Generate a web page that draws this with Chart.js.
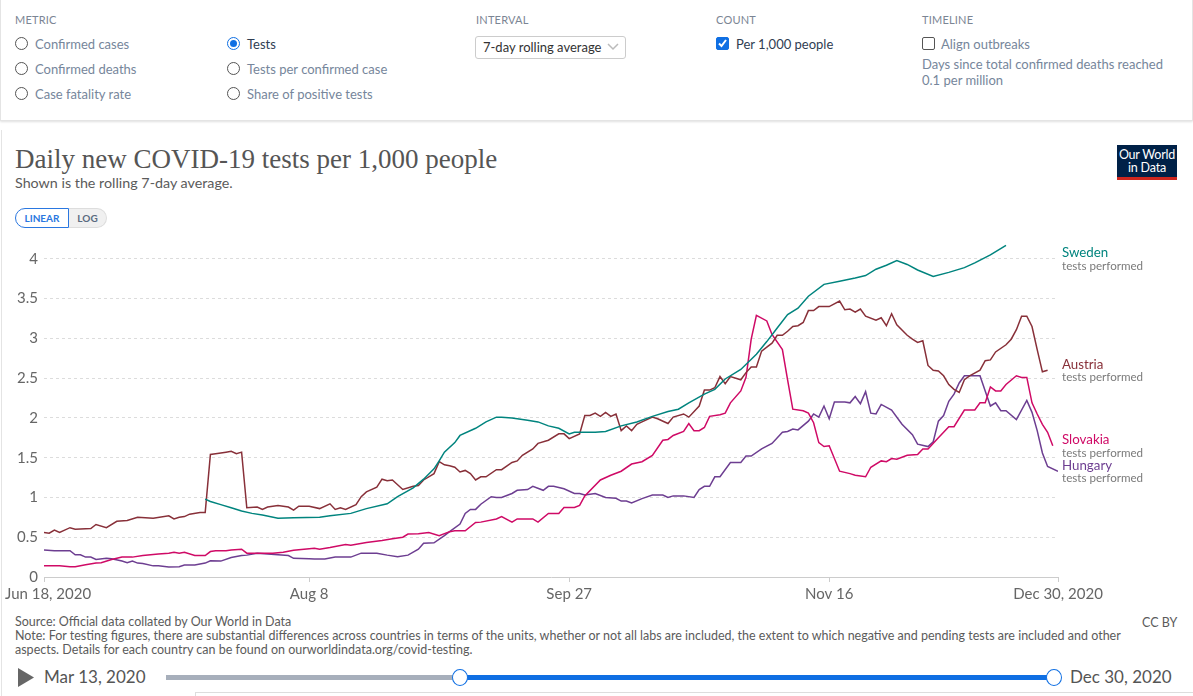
<!DOCTYPE html>
<html>
<head>
<meta charset="utf-8">
<script src="https://cdn.jsdelivr.net/npm/chart.js@4.4.0/dist/chart.umd.min.js"></script>
<style>
  body { margin:0; width:1193px; height:696px; overflow:hidden; background:#fff; font-family:Lato, sans-serif; position:relative; }
  .abs { position:absolute; white-space:nowrap; }
  .controls { position:absolute; left:0; top:-1px; width:1191px; height:120px; border:1px solid #e4e4e4; box-shadow:0 1px 2px rgba(0,0,0,.12); background:#fff; }
  .head { font-size:11px; color:#7b8594; letter-spacing:.2px; }
  .opt { font-size:13px; color:#76869b; }
  .opt.on { color:#2f3d52; }
  .radio { position:absolute; width:11px; height:11px; border:1px solid #555; border-radius:50%; background:#fff; }
  .radio.on { border-color:#0f6fe3; }
  .radio.on::after { content:''; position:absolute; left:2px; top:2px; width:7px; height:7px; border-radius:50%; background:#0f6fe3; }
  .box { position:absolute; width:11px; height:11px; border:1px solid #555; border-radius:2px; background:#fff; }
  .box.on { background:#0f6fe3; border-color:#0f6fe3; }
  .select { position:absolute; left:475px; top:36px; width:149px; height:21px; border:1px solid #ccc; border-radius:3px; font-size:13px; color:#333; }
  .card { position:absolute; left:1px; top:130px; width:1200px; height:570px; border-left:1px solid #e4e4e4; }
  .toggle { position:absolute; top:208px; height:18px; font-size:10px; font-weight:bold; line-height:18px; text-align:center; }
</style>
</head>
<body>
<div class="controls"></div>
<div class="card"></div>

<div class="abs head" style="left:15px;top:13px;">METRIC</div>
<span class="radio" style="left:15px;top:37px;"></span><div class="abs opt" style="left:35px;top:36px;">Confirmed cases</div>
<span class="radio" style="left:15px;top:62px;"></span><div class="abs opt" style="left:35px;top:61px;">Confirmed deaths</div>
<span class="radio" style="left:15px;top:87px;"></span><div class="abs opt" style="left:35px;top:86px;">Case fatality rate</div>
<span class="radio on" style="left:227px;top:37px;"></span><div class="abs opt on" style="left:247px;top:36px;">Tests</div>
<span class="radio" style="left:227px;top:62px;"></span><div class="abs opt" style="left:247px;top:61px;">Tests per confirmed case</div>
<span class="radio" style="left:227px;top:87px;"></span><div class="abs opt" style="left:247px;top:86px;">Share of positive tests</div>

<div class="abs head" style="left:476px;top:13px;">INTERVAL</div>
<div class="select"><span style="position:absolute;left:7px;top:2px;">7-day rolling average</span>
  <svg style="position:absolute;left:131px;top:6px;" width="12" height="8"><polyline points="1,1 6,6 11,1" fill="none" stroke="#bbb" stroke-width="1.5"/></svg></div>

<div class="abs head" style="left:716px;top:13px;">COUNT</div>
<span class="box on" style="left:716px;top:37px;"><svg style="position:absolute;left:0;top:0;" width="11" height="11"><polyline points="2,5.5 4.5,8 9,2" fill="none" stroke="#fff" stroke-width="2"/></svg></span>
<div class="abs opt on" style="left:736px;top:36px;">Per 1,000 people</div>

<div class="abs head" style="left:922px;top:13px;">TIMELINE</div>
<span class="box" style="left:922px;top:37px;"></span><div class="abs opt" style="left:941px;top:36px;">Align outbreaks</div>
<div class="abs opt" style="left:922px;top:56px;line-height:16px;">Days since total confirmed deaths reached<br>0.1 per million</div>

<div class="abs" style="left:15px;top:144px;font-family:'Liberation Serif',serif;font-size:27px;color:#555;">Daily new COVID-19 tests per 1,000 people</div>
<div class="abs" style="left:15px;top:174px;font-size:14.3px;color:#5b5b5b;">Shown is the rolling 7-day average.</div>
<div class="toggle" style="left:15px;width:52px;border:1px solid #2a77e0;border-radius:10px 0 0 10px;color:#2a77e0;background:#fff;">LINEAR</div>
<div class="toggle" style="left:69px;width:37px;border:1px solid #ddd;border-left:none;border-radius:0 10px 10px 0;color:#5b6b80;background:#f0f0f0;">LOG</div>

<div class="abs" style="left:1117px;top:145px;width:60px;height:32px;background:#002147;color:#fff;font-size:12.5px;line-height:13px;text-align:center;padding-top:3px;box-sizing:border-box;letter-spacing:-0.2px;">Our World<br>in Data</div>
<div class="abs" style="left:1117px;top:177px;width:60px;height:3px;background:#ce261e;"></div>

<div style="position:absolute;left:0;top:232px;width:1193px;height:378px;">
  <canvas id="chart" width="1193" height="378"></canvas>
</div>

<div class="abs" style="left:15px;top:615px;font-size:12.5px;color:#5b5b5b;line-height:14px;">Source: Official data collated by Our World in Data<br>Note: For testing figures, there are substantial differences across countries in terms of the units, whether or not all labs are included, the extent to which negative and pending tests are included and other<br>aspects. Details for each country can be found on ourworldindata.org/covid-testing.</div>
<div class="abs" style="left:1142px;top:615px;font-size:12.5px;color:#5b5b5b;">CC BY</div>

<svg class="abs" style="left:18px;top:668px;" width="17" height="19"><polygon points="0,0 16,9.5 0,19" fill="#666"/></svg>
<div class="abs" style="left:44px;top:666px;font-size:17px;color:#555;">Mar 13, 2020</div>
<div class="abs" style="left:166px;top:675px;width:294px;height:5px;background:#a7afbb;"></div>
<div class="abs" style="left:460px;top:675px;width:594px;height:5px;background:#0f6fe3;"></div>
<div class="abs" style="left:452px;top:669px;width:14px;height:15px;border:1px solid #0f6fe3;border-radius:50%;background:#fff;"></div>
<div class="abs" style="left:1046px;top:669px;width:14px;height:15px;border:1px solid #0f6fe3;border-radius:50%;background:#fff;"></div>
<div class="abs" style="left:1070px;top:666px;font-size:17px;color:#555;">Dec 30, 2020</div>
<div class="abs" style="left:195px;top:692px;width:1000px;height:10px;border-top:1px solid #ddd;border-left:1px solid #ddd;"></div>

<script>
// days counted from Jun 18, 2020
var tickDays = [0, 51, 101, 151, 195];
var tickLabels = ['Jun 18, 2020', 'Aug 8', 'Sep 27', 'Nov 16', 'Dec 30, 2020'];
var yTicks = [0, 0.5, 1, 1.5, 2, 2.5, 3, 3.5, 4];
var seriesNames = ['Sweden', 'Austria', 'Slovakia', 'Hungary'];
var seriesColors = ['#00847e', '#883039', '#cf0a66', '#6d3e91'];

var sweden = [[31,0.98],[32,0.95],[34,0.91],[36,0.87],[38,0.83],[40,0.80],[42,0.78],[45,0.74],[48,0.745],[53,0.75],[55,0.77],[59,0.80],[62,0.86],[66,0.92],[68,1.01],[71,1.12],[73,1.23],[75,1.36],[76,1.46],[77,1.57],[79,1.69],[80,1.78],[83,1.87],[85,1.95],[87,2.01],[88,2.01],[90,2.00],[93,1.97],[95,1.95],[97,1.90],[99,1.87],[101,1.80],[102,1.82],[106,1.82],[108,1.83],[111,1.90],[114,1.95],[117,2.02],[120,2.08],[122,2.11],[124,2.19],[127,2.30],[129,2.36],[131,2.49],[134,2.61],[137,2.80],[139,2.96],[141,3.13],[143,3.30],[145,3.38],[147,3.53],[150,3.68],[153,3.72],[156,3.76],[158,3.79],[160,3.87],[162,3.92],[164,3.98],[166,3.93],[168,3.86],[171,3.78],[174,3.83],[177,3.89],[179,3.95],[182,4.05],[185,4.17]];

var austria = [[0,0.56],[1,0.55],[2,0.59],[3,0.56],[5,0.62],[6,0.60],[9,0.61],[10,0.66],[12,0.62],[14,0.70],[16,0.71],[18,0.75],[21,0.74],[24,0.77],[25,0.73],[26,0.75],[27,0.76],[28,0.79],[30,0.81],[31,0.81],[32,1.54],[33,1.55],[35,1.57],[36,1.58],[37,1.55],[38,1.57],[39,0.87],[41,0.88],[42,0.85],[43,0.88],[45,0.90],[47,0.88],[48,0.84],[49,0.89],[51,0.89],[53,0.86],[55,0.92],[56,0.85],[57,0.87],[58,0.85],[60,0.91],[61,1.01],[62,1.07],[64,1.13],[65,1.23],[66,1.21],[67,1.22],[69,1.10],[71,1.14],[72,1.15],[73,1.22],[75,1.30],[76,1.45],[77,1.41],[78,1.40],[79,1.38],[80,1.32],[81,1.34],[82,1.30],[83,1.22],[84,1.26],[85,1.26],[87,1.35],[88,1.35],[90,1.44],[91,1.46],[92,1.53],[94,1.61],[95,1.68],[97,1.72],[99,1.80],[100,1.80],[101,1.74],[103,1.80],[104,2.03],[105,2.03],[106,2.06],[107,2.02],[108,2.07],[109,2.02],[110,2.05],[111,1.84],[112,1.90],[113,1.84],[114,1.92],[115,1.95],[117,2.01],[118,1.99],[120,1.93],[121,2.01],[123,2.05],[124,2.01],[126,2.15],[127,2.35],[128,2.35],[129,2.38],[130,2.52],[131,2.43],[132,2.52],[134,2.48],[135,2.57],[136,2.64],[137,2.64],[138,2.84],[139,2.89],[140,2.94],[141,3.04],[142,3.04],[143,3.09],[144,3.15],[145,3.16],[146,3.20],[147,3.35],[148,3.35],[149,3.40],[151,3.40],[153,3.47],[154,3.36],[155,3.37],[156,3.33],[157,3.37],[158,3.28],[160,3.23],[161,3.26],[162,3.16],[163,3.31],[164,3.17],[166,3.04],[167,2.99],[168,2.95],[169,2.97],[170,2.66],[171,2.60],[172,2.59],[173,2.53],[174,2.42],[175,2.36],[176,2.32],[177,2.48],[178,2.53],[180,2.60],[181,2.72],[182,2.73],[183,2.83],[185,2.92],[186,2.99],[187,3.11],[188,3.28],[189,3.28],[190,3.15],[191,2.86],[192,2.58],[193,2.60]];

var slovakia = [[0,0.14],[3,0.14],[5,0.13],[6,0.13],[8,0.155],[10,0.175],[11,0.18],[13,0.22],[15,0.25],[17,0.25],[19,0.27],[22,0.29],[24,0.30],[25,0.31],[26,0.30],[27,0.31],[29,0.27],[31,0.27],[32,0.32],[33,0.33],[35,0.33],[36,0.34],[38,0.35],[39,0.30],[41,0.30],[44,0.30],[46,0.31],[48,0.335],[52,0.36],[53,0.35],[55,0.37],[58,0.41],[59,0.40],[62,0.435],[65,0.46],[67,0.48],[69,0.50],[70,0.54],[72,0.545],[74,0.56],[76,0.52],[78,0.57],[79,0.58],[81,0.58],[83,0.685],[84,0.69],[87,0.73],[88,0.76],[90,0.69],[91,0.73],[94,0.73],[95,0.69],[97,0.80],[99,0.80],[100,0.875],[102,0.875],[103,0.90],[104,1.02],[107,1.22],[109,1.28],[111,1.33],[113,1.42],[115,1.45],[117,1.53],[119,1.72],[120,1.73],[121,1.78],[123,1.83],[124,1.93],[125,1.84],[126,1.84],[127,1.88],[128,2.02],[130,2.04],[131,2.06],[132,2.19],[134,2.34],[135,2.51],[136,2.99],[137,3.29],[139,3.22],[140,3.05],[142,2.86],[143,2.48],[144,2.11],[146,2.09],[147,2.06],[148,1.94],[149,1.69],[150,1.64],[151,1.65],[153,1.33],[155,1.30],[156,1.28],[158,1.26],[159,1.38],[161,1.46],[162,1.45],[163,1.49],[164,1.48],[166,1.53],[168,1.54],[169,1.61],[170,1.61],[172,1.75],[174,1.89],[175,1.89],[177,2.10],[179,2.10],[180,2.19],[181,2.19],[182,2.39],[183,2.34],[184,2.34],[185,2.42],[187,2.53],[188,2.51],[189,2.51],[190,2.19],[191,2.05],[192,1.92],[193,1.82],[194,1.65]];

var hungary = [[0,0.34],[2,0.33],[3,0.33],[5,0.33],[6,0.28],[7,0.28],[8,0.25],[9,0.25],[10,0.22],[12,0.235],[13,0.23],[15,0.20],[16,0.18],[17,0.20],[18,0.175],[19,0.17],[21,0.14],[22,0.14],[24,0.125],[26,0.13],[27,0.15],[29,0.15],[31,0.175],[32,0.205],[34,0.20],[36,0.245],[38,0.27],[39,0.275],[41,0.30],[43,0.29],[45,0.28],[47,0.27],[48,0.235],[51,0.23],[52,0.225],[54,0.225],[56,0.25],[59,0.25],[61,0.30],[64,0.30],[66,0.275],[68,0.255],[70,0.275],[72,0.35],[73,0.425],[75,0.43],[77,0.52],[78,0.57],[80,0.665],[81,0.80],[82,0.85],[83,0.85],[84,0.915],[86,1.01],[87,1.00],[88,1.00],[90,1.05],[91,1.09],[93,1.10],[94,1.14],[96,1.09],[97,1.14],[98,1.14],[100,1.11],[102,1.05],[103,1.05],[104,1.03],[106,1.05],[108,1.00],[110,0.99],[111,0.955],[112,0.955],[113,0.93],[115,0.985],[117,1.03],[119,1.03],[120,1.00],[121,1.02],[123,1.02],[125,1.00],[126,1.10],[127,1.14],[128,1.14],[129,1.26],[130,1.26],[132,1.44],[134,1.44],[135,1.52],[136,1.52],[138,1.61],[140,1.68],[142,1.82],[143,1.83],[144,1.86],[145,1.85],[147,1.96],[148,2.05],[149,2.01],[150,2.15],[151,1.99],[152,2.20],[154,2.20],[155,2.19],[156,2.27],[157,2.18],[158,2.33],[159,2.06],[160,2.05],[161,2.17],[163,2.10],[165,1.92],[167,1.79],[168,1.67],[170,1.64],[171,1.70],[172,1.96],[173,2.03],[174,2.21],[175,2.30],[176,2.44],[177,2.53],[178,2.53],[180,2.53],[181,2.34],[182,2.15],[183,2.19],[184,2.09],[185,2.09],[187,1.98],[189,2.22],[190,2.07],[191,1.84],[192,1.56],[193,1.39],[195,1.33]];

var allSeries = [sweden, austria, slovakia, hungary];

function toPoints(arr) {
	return arr.map(function(p){ return {x: p[0], y: p[1]}; });
}

var datasets = [];
for (var i in allSeries) {
	datasets.push({
		label: seriesNames[i],
		data: toPoints(allSeries[i]),
		borderColor: seriesColors[i],
		borderWidth: 1.5,
		pointRadius: 0,
		tension: 0,
		fill: false
	});
}

// labels at the end of lines and the date labels under the axis
var labelPlugin = {
	id: 'owidLabels',
	afterDraw: function(chart) {
		var c = chart.ctx;
		var area = chart.chartArea;
		var xs = chart.scales.x, ys = chart.scales.y;
		c.save();
		c.font = '15px Lato';
		c.fillStyle = '#666';
		c.textBaseline = 'middle';
		c.textAlign = 'left';
		for (var t = 0; t < tickDays.length; t++) {
			var px = xs.getPixelForValue(tickDays[t]);
			var w = c.measureText(tickLabels[t]).width;
			var left = Math.max(5, px - w / 2);
			c.fillText(tickLabels[t], left, area.bottom + 17);
		}
		chart.data.datasets.forEach(function(ds) {
			var last = ds.data[ds.data.length - 1];
			var y = Math.max(ys.getPixelForValue(last.y) - 6, area.top + 14);
			c.font = '13.3px Lato';
			c.fillStyle = ds.borderColor;
			c.fillText(ds.label, area.right + 4, y);
			c.font = '11.6px Lato';
			c.fillStyle = '#7a7a7a';
			c.fillText('tests performed', area.right + 4, y + 13);
		});
		c.restore();
	}
};

var ctx = document.getElementById('chart');
var lineChart = new Chart(ctx, {
	type: 'line',
	data: { datasets: datasets },
	plugins: [labelPlugin],
	options: {
		responsive: false,
		animation: false,
		layout: { padding: { top: 7, right: 135, left: 0, bottom: 0 } },
		plugins: { legend: { display: false }, tooltip: { enabled: false } },
		scales: {
			x: {
				type: 'linear',
				min: 0,
				max: 195,
				afterBuildTicks: function(s) { s.ticks = tickDays.map(function(v){ return {value: v}; }); },
				afterFit: function(s) { s.height = 33; s.paddingLeft = 0; s.paddingRight = 0; },
				ticks: { display: false },
				grid: { drawOnChartArea: false, drawTicks: true, tickLength: 5, color: '#ccc' },
				border: { display: true, color: '#ccc', width: 1 }
			},
			y: {
				min: 0,
				max: 4.25,
				afterBuildTicks: function(s) { s.ticks = yTicks.map(function(v){ return {value: v}; }); },
				afterFit: function(s) { s.width = 44; s.paddingTop = 0; s.paddingBottom = 0; },
				ticks: {
					padding: 6,
					color: '#666',
					font: { family: 'Lato', size: 15 },
					callback: function(v) { return String(v); }
				},
				grid: { color: '#dcdcdc', drawTicks: false },
				border: { display: false, dash: [3, 3] }
			}
		}
	}
});
</script>
</body>
</html>
